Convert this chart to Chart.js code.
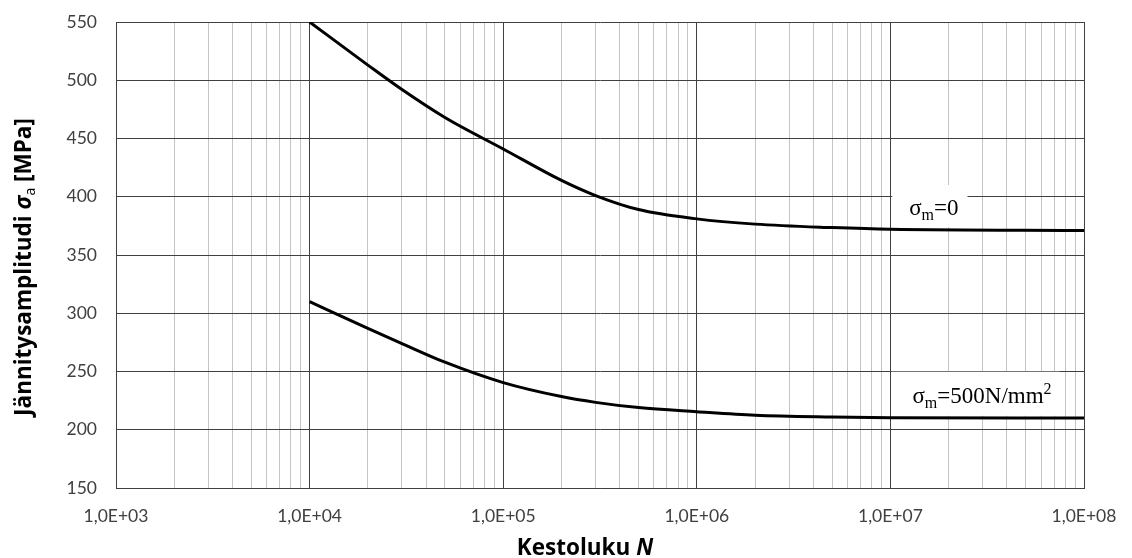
<!DOCTYPE html>
<html>
<head>
<meta charset="utf-8">
<script src="https://cdn.jsdelivr.net/npm/chart.js@4/dist/chart.umd.min.js"></script>
<style>
  html, body { margin: 0; padding: 0; background: #fff; }
  #wrap { width: 1132px; height: 558px; }
</style>
</head>
<body>
<div id="wrap"><canvas id="myChart"></canvas></div>
<script>
// Kestoluku N (cycles) and stress amplitude
const cycles = [1e4, 2e4, 3e4, 5e4, 1e5, 2e5, 3e5, 5e5, 1e6, 2e6, 5e6, 1e7, 1e8];
const sigmaMean0 = [550, 513, 492, 468, 441, 414, 401, 389, 381, 376.5, 373.5, 372, 371];
const sigmaMean500 = [310, 287, 274, 258, 240.5, 228.5, 223.5, 219, 215.5, 212.5, 211, 210.4, 210];

const xMin = 1e3, xMax = 1e8;
const yMin = 150, yMax = 550, yStep = 50;

const FONT = 'Lato, "Open Sans", sans-serif';
const TITLE_FONT = '"Open Sans", Lato, sans-serif';
const SERIF = '"Liberation Serif", "DejaVu Serif", serif';

// where the curve labels sit (data coords: text start / baseline)
const curveLabels = [
  {x: 1.25e7, y: 384.3, sub: 'm', rest: '=0', sup: '', box: [17, 9, 30, 12]},
  {x: 1.30e7, y: 223.2, sub: 'm', rest: '=500N/mm', sup: '2', box: [21, 8, 31, 13]}
];

function toPoints(ys) {
  return cycles.map((c, i) => ({x: c, y: ys[i]}));
}

const labelPlugin = {
  id: 'curveLabels',
  beforeDatasetsDraw(chart) {
    const {ctx, scales: {x, y}} = chart;
    const big = '23px ' + SERIF, small = '16px ' + SERIF;
    ctx.save();
    curveLabels.forEach(l => {
      const px = x.getPixelForValue(l.x);
      const py = y.getPixelForValue(l.y);
      ctx.font = big;
      const w1 = ctx.measureText('σ').width;
      ctx.font = small;
      const w2 = ctx.measureText(l.sub).width;
      ctx.font = big;
      const w3 = ctx.measureText(l.rest).width;
      ctx.font = small;
      const w4 = l.sup ? ctx.measureText(l.sup).width : 0;
      const total = w1 + w2 + w3 + w4;
      const [pl, pr, pt, pb] = l.box;
      ctx.fillStyle = '#fff';
      ctx.fillRect(px - pl, py - pt, total + pl + pr, pt + pb);
      ctx.fillStyle = '#000';
      ctx.textBaseline = 'alphabetic';
      ctx.textAlign = 'left';
      let cx = px;
      ctx.font = big;
      ctx.fillText('σ', cx, py); cx += w1;
      ctx.font = small;
      ctx.fillText(l.sub, cx, py + 5); cx += w2;
      ctx.font = big;
      ctx.fillText(l.rest, cx, py); cx += w3;
      if (l.sup) {
        ctx.font = small;
        ctx.fillText(l.sup, cx, py - 9);
      }
    });
    ctx.restore();
  }
};

const titlePlugin = {
  id: 'axisTitles',
  afterDraw(chart) {
    const {ctx} = chart;
    ctx.save();
    ctx.fillStyle = '#000';
    ctx.textBaseline = 'alphabetic';
    const b = 'bold 22.5px ' + TITLE_FONT, bi = 'bold italic 22.5px ' + TITLE_FONT;
    // x title: Kestoluku N
    ctx.font = b;
    const a = 'Kestoluku ';
    const wa = ctx.measureText(a).width;
    ctx.font = bi;
    const wn = ctx.measureText('N').width;
    const sx = 585 - (wa + wn) / 2;
    ctx.font = b;
    ctx.fillText(a, sx, 555);
    ctx.font = bi;
    ctx.fillText('N', sx + wa, 555);

    // y title, rotated
    const parts = [
      {t: 'Jännitysamplitudi ', f: b, dy: 0},
      {t: 'σ', f: bi, dy: 0},
      {t: 'a', f: '14px ' + TITLE_FONT, dy: 4},
      {t: ' [MPa]', f: b, dy: 0}
    ];
    let total = 0;
    parts.forEach(p => { ctx.font = p.f; p.w = ctx.measureText(p.t).width; total += p.w; });
    ctx.translate(31, 267);
    ctx.rotate(-Math.PI / 2);
    let cx = -total / 2;
    parts.forEach(p => {
      ctx.font = p.f;
      ctx.fillText(p.t, cx, p.dy);
      cx += p.w;
    });
    ctx.restore();
  }
};

const data = {
  datasets: [
    {
      label: 'σm=0',
      data: toPoints(sigmaMean0),
      borderColor: '#000',
      borderWidth: 3,
      pointRadius: 0,
      cubicInterpolationMode: 'monotone'
    },
    {
      label: 'σm=500N/mm2',
      data: toPoints(sigmaMean500),
      borderColor: '#000',
      borderWidth: 3,
      pointRadius: 0,
      cubicInterpolationMode: 'monotone'
    }
  ]
};

const config = {
  type: 'line',
  data: data,
  options: {
    responsive: true,
    maintainAspectRatio: false,
    animation: false,
    layout: {padding: {top: 22, right: 48, left: 0, bottom: 0}},
    plugins: {
      legend: {display: false},
      tooltip: {enabled: false}
    },
    scales: {
      x: {
        type: 'logarithmic',
        min: xMin,
        max: xMax,
        afterBuildTicks(scale) {
          const ticks = [];
          for (let e = 3; e < 8; e++) {
            for (let m = 1; m < 10; m++) ticks.push({value: m * Math.pow(10, e)});
          }
          ticks.push({value: xMax});
          scale.ticks = ticks;
        },
        afterFit(scale) { scale.height = 70; },
        grid: {
          drawTicks: true,
          tickLength: 18,
          tickColor: 'rgba(0,0,0,0)',
          color: c => Number.isInteger(Math.round(Math.log10(c.tick.value) * 1e6) / 1e6) ? '#404040' : '#c4c4c4',
          lineWidth: 1
        },
        border: {color: '#404040'},
        ticks: {
          autoSkip: false,
          maxRotation: 0,
          padding: 0,
          color: '#404040',
          font: {family: FONT, size: 17.5},
          callback(v) {
            const e = Math.log10(v);
            if (Math.abs(e - Math.round(e)) > 1e-9) return '';
            return '1,0E+' + String(Math.round(e)).padStart(2, '0');
          }
        }
      },
      y: {
        min: yMin,
        max: yMax,
        afterFit(scale) { scale.width = 116; },
        grid: {drawTicks: true, tickLength: 19, tickColor: 'rgba(0,0,0,0)', color: '#404040'},
        border: {color: '#404040'},
        ticks: {
          stepSize: yStep,
          padding: 0,
          color: '#404040',
          font: {family: FONT, size: 17.5}
        }
      }
    }
  },
  plugins: [labelPlugin, titlePlugin]
};

const ctx = document.getElementById('myChart');
const myChart = new Chart(ctx, config);
</script>
</body>
</html>
